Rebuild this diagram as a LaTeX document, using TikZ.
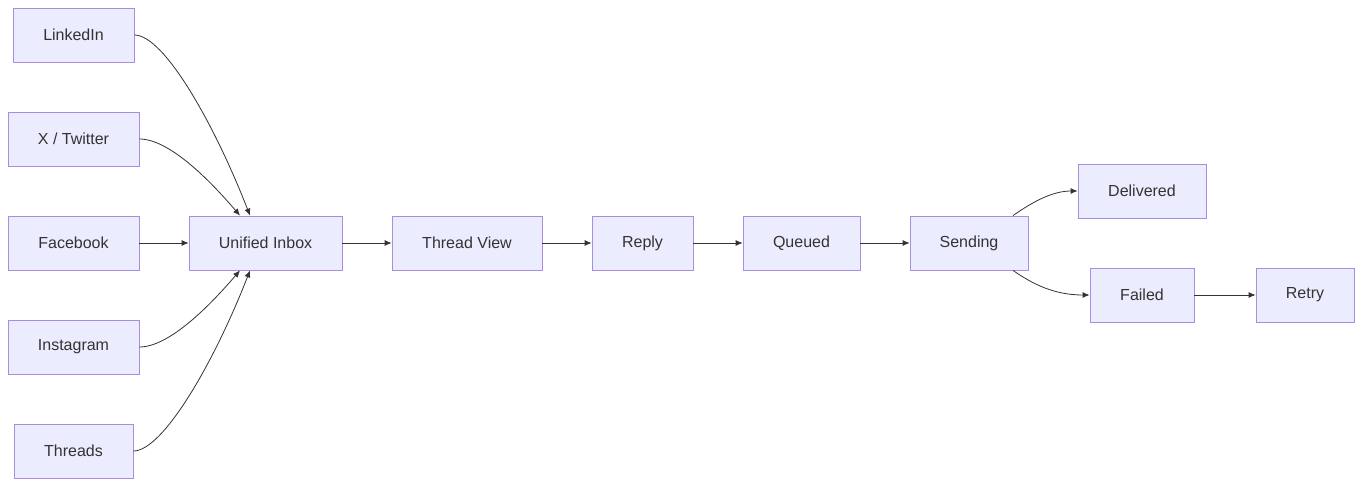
\documentclass[tikz,border=0pt]{standalone}
\usepackage{fontspec}
\setmainfont{Liberation Sans}
\usetikzlibrary{arrows.meta}
\definecolor{nf}{HTML}{ECECFF}
\definecolor{nb}{HTML}{9370DB}
\definecolor{tx}{HTML}{333333}
\begin{document}
\begin{tikzpicture}[x=1pt,y=-1pt,
 box/.style={draw=nb!80,fill=nf,line width=0.8pt,minimum height=54pt,inner sep=0pt,text=tx,font=\fontsize{16}{18}\selectfont},
 ar/.style={draw=tx,line width=0.8pt,-{Latex[length=7pt,width=6pt]}}]
\useasboundingbox (0,0) rectangle (1362,486);
\node[box,minimum width=121pt] (li) at (73.5,35) {LinkedIn};
\node[box,minimum width=131pt] (x) at (73.5,139) {X / Twitter};
\node[box,minimum width=131pt] (fb) at (73.5,243) {Facebook};
\node[box,minimum width=131pt] (ig) at (73.5,347) {Instagram};
\node[box,minimum width=119pt] (th) at (73.5,451) {Threads};
\node[box,minimum width=153pt] (ib) at (265.5,243) {Unified Inbox};
\node[box,minimum width=150pt] (tv) at (467,243) {Thread View};
\node[box,minimum width=101pt] (re) at (642.5,243) {Reply};
\node[box,minimum width=117pt] (qu) at (801.5,243) {Queued};
\node[box,minimum width=118pt] (se) at (969,243) {Sending};
\node[box,minimum width=128pt] (de) at (1142,191) {Delivered};
\node[box,minimum width=104pt] (fa) at (1142,295) {Failed};
\node[box,minimum width=98pt] (rt) at (1305,295) {Retry};
\draw[ar] (li.east) .. controls +(30,0) and +(-35,-90) .. ([xshift=-15.5pt]ib.north);
\draw[ar] (x.east) .. controls +(30,0) and +(-30,-35) .. ([xshift=-25.5pt]ib.north);
\draw[ar] (fb) -- (ib);
\draw[ar] (ig.east) .. controls +(30,0) and +(-30,35) .. ([xshift=-25.5pt]ib.south);
\draw[ar] (th.east) .. controls +(30,0) and +(-35,90) .. ([xshift=-15.5pt]ib.south);
\draw[ar] (ib) -- (tv);
\draw[ar] (tv) -- (re);
\draw[ar] (re) -- (qu);
\draw[ar] (qu) -- (se);
\draw[ar] ([xshift=44pt]se.north) .. controls +(20,-14) and +(-25,0) .. (de.west);
\draw[ar] ([xshift=44pt]se.south) .. controls +(20,14) and +(-35,0) .. (fa.west);
\draw[ar] (fa) -- (rt);
\end{tikzpicture}
\end{document}
